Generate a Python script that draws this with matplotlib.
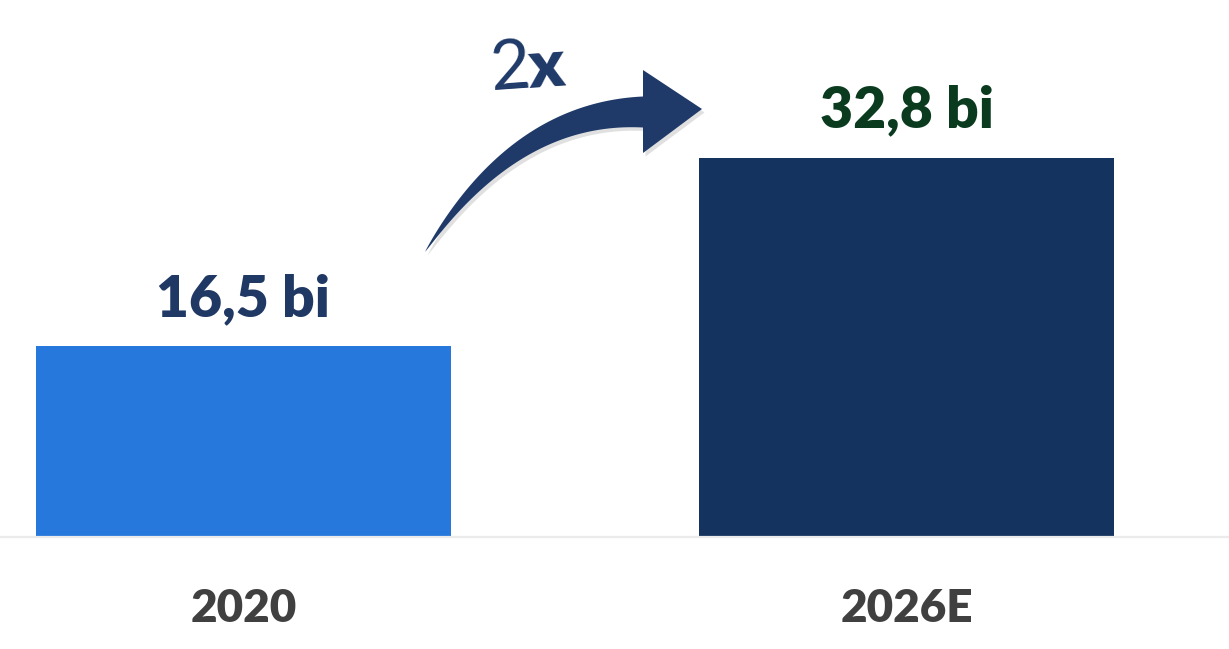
import numpy as np
import matplotlib
matplotlib.use('Agg')
import matplotlib.pyplot as plt
from matplotlib.patches import Polygon

# data
years = ['2020', '2026E']
values = [16.5, 32.8]
value_labels = ['16,5 bi', '32,8 bi']
bar_colors = ['#2678DC', '#14335F']
label_colors = ['#1F3864', '#0A3B1F']

plt.rcParams['font.family'] = ['Lato', 'DejaVu Sans']

W, H = 1229, 649
fig = plt.figure(figsize=(W / 100, H / 100), dpi=100)
ax = fig.add_axes([0, 112 / H, 1, 537 / H])

x = np.arange(len(years))
ax.bar(x, values, width=0.626, color=bar_colors, zorder=2)
ax.set_xlim(-0.367, 1.486)
ax.set_ylim(0, 46.5)

for s in ['top', 'right', 'left']:
    ax.spines[s].set_visible(False)
ax.spines['bottom'].set_color('#EBEBEB')
ax.spines['bottom'].set_linewidth(1.6)
ax.set_yticks([])
ax.set_xticks([])

# value labels above the bars
for xi, v, lab, c in zip(x, values, value_labels, label_colors):
    ax.annotate(lab, xy=(xi, v), xytext=(0, 22), textcoords='offset points',
                ha='center', va='baseline', fontsize=41, fontweight='heavy', color=c)

# category labels under the axis
for xi, yr in zip(x, years):
    ax.annotate(yr, xy=(xi, 0), xycoords=('data', 'axes fraction'),
                xytext=(0, -61), textcoords='offset points',
                ha='center', va='baseline', fontsize=33, fontweight='heavy', color='#404040')

# curved tapered arrow (image pixel coordinates)
arrow_col = '#1F3A68'
p0 = np.array([425.0, 252.0])
p1 = np.array([515.0, 112.0])
p2 = np.array([643.0, 112.0])
t = np.linspace(0, 1, 80)[:, None]
pts = (1 - t) ** 2 * p0 + 2 * (1 - t) * t * p1 + t ** 2 * p2
d = 2 * (1 - t) * (p1 - p0) + 2 * t * (p2 - p1)
d = d / np.linalg.norm(d, axis=1)[:, None]
nrm = np.column_stack([-d[:, 1], d[:, 0]])
half = (t[:, 0] ** 0.8) * 15.5
upper = pts + nrm * half[:, None]
lower = pts - nrm * half[:, None]
head = np.array([[643, 70], [702, 109], [643, 153]], dtype=float)
poly = np.vstack([lower, head, upper[::-1]])


def to_fig(p):
    return np.column_stack([p[:, 0] / W, 1 - p[:, 1] / H])


shadow = Polygon(to_fig(poly + np.array([2.5, 3.5])), closed=True,
                 facecolor='#000000', alpha=0.12, edgecolor='none',
                 transform=fig.transFigure)
fig.add_artist(shadow)
arrow = Polygon(to_fig(poly), closed=True, facecolor=arrow_col,
                edgecolor='none', transform=fig.transFigure)
fig.add_artist(arrow)

# "2x" growth text
fig.text(488 / W, 1 - 90 / H, '2', fontsize=50, fontweight='normal',
         color=arrow_col, ha='left', va='baseline', rotation=4)
fig.text(526 / W, 1 - 88 / H, 'x', fontsize=48, fontweight='heavy',
         color=arrow_col, ha='left', va='baseline', rotation=4)

fig.savefig('out.png', dpi=100)
